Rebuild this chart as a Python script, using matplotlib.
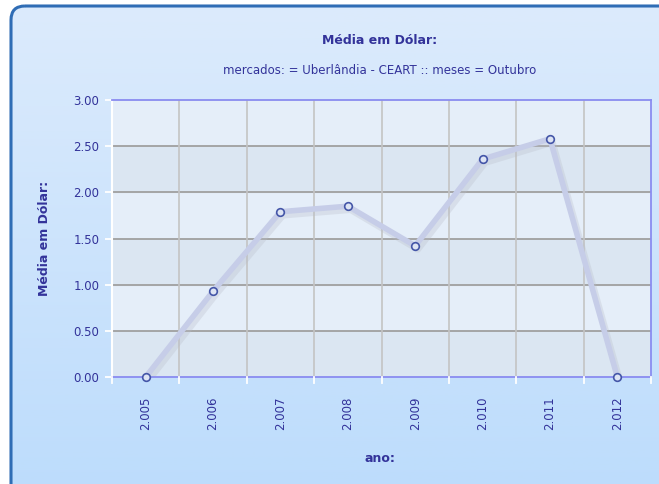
import numpy as np
import matplotlib
matplotlib.use("Agg")
import matplotlib.pyplot as plt
from matplotlib.patches import FancyBboxPatch

# data
anos = ['2.005', '2.006', '2.007', '2.008', '2.009', '2.010', '2.011', '2.012']
media = [0.00, 0.93, 1.79, 1.85, 1.42, 2.36, 2.58, 0.00]

txt = '#33339a'
plt.rcParams['font.family'] = ['DejaVu Sans']

W, H = 659, 484
fig = plt.figure(figsize=(W / 100, H / 100), dpi=100)
fig.patch.set_facecolor('white')

# outer rounded panel with vertical gradient
bg = fig.add_axes([0, 0, 1, 1], zorder=0)
bg.set_xlim(0, W)
bg.set_ylim(H, 0)
bg.axis('off')
grad = np.linspace(0, 1, 256).reshape(-1, 1)
cmap = matplotlib.colors.LinearSegmentedColormap.from_list('g', ['#dcebfc', '#bcdcfc'])
im = bg.imshow(grad, cmap=cmap, extent=[11, W + 20, H + 20, 6], aspect='auto')
box = FancyBboxPatch((11, 6), W + 10, H + 10, boxstyle='round,pad=0,rounding_size=14',
                     facecolor='none', edgecolor='#2f6db5', linewidth=2.2)
bg.add_patch(box)
im.set_clip_path(box)

# plot area
x0, x1, y0, y1 = 112, 651, 100, 377
ax = fig.add_axes([x0 / W, 1 - y1 / H, (x1 - x0) / W, (y1 - y0) / H], zorder=1)
ax.set_facecolor('#e5eef9')
x = np.arange(len(anos))
ax.set_xlim(-0.5, len(anos) - 0.5)
ax.set_ylim(0, 3)

# alternating bands
for k in range(6):
    if k % 2 == 0:
        ax.axhspan(k * 0.5, (k + 1) * 0.5, color='#dbe6f2', zorder=0)

for v in np.arange(0.5, 3.0, 0.5):
    ax.axhline(v, color='#a0a0a0', lw=1.3, zorder=1)
for b in np.arange(0.5, len(anos) - 0.5, 1):
    ax.axvline(b, color='#c4c4c4', lw=1.2, zorder=1)

# shadow + line + markers
ax.plot(x + 0.04, np.array(media) - 0.04, color='#b8bcc8', lw=4.5, alpha=0.3,
        solid_capstyle='round', zorder=2)
ax.plot(x, media, color='#c6cde8', lw=4, solid_capstyle='round', zorder=3)
ax.plot(x, media, 'o', ms=5.5, mfc='#dde4f4', mec='#4456a8', mew=1.2, zorder=4,
        clip_on=False)

ax.set_yticks(np.arange(0, 3.01, 0.5))
ax.set_yticklabels(['%.2f' % v for v in np.arange(0, 3.01, 0.5)])
ax.set_xticks(x)
ax.set_xticklabels(anos, rotation=90)
ax.tick_params(axis='x', length=0, pad=14, colors=txt, labelsize=8.5)
ax.tick_params(axis='y', length=5, width=1.3, colors=txt, labelsize=8.5, pad=4)
ax.tick_params(axis='y', color='white')
for b in np.arange(-0.5, len(anos), 1):
    ax.plot([b, b], [0, -0.07], color='white', lw=1.3, clip_on=False, zorder=5)

for s in ['top', 'right', 'bottom']:
    ax.spines[s].set_color('#8a8cf0')
    ax.spines[s].set_linewidth(1.3)
ax.spines['left'].set_color('white')
ax.spines['left'].set_linewidth(1.5)

fig.text(380 / W, 1 - 40 / H, 'Média em Dólar:', color=txt, fontsize=9,
         fontweight='bold', ha='center', va='center')
fig.text(380 / W, 1 - 71 / H, 'mercados: = Uberlândia - CEART :: meses = Outubro',
         color=txt, fontsize=8.5, ha='center', va='center')
fig.text(45 / W, 1 - 238 / H, 'Média em Dólar:', color=txt, fontsize=9,
         fontweight='bold', ha='center', va='center', rotation=90)
fig.text(380 / W, 1 - 458 / H, 'ano:', color=txt, fontsize=9,
         fontweight='bold', ha='center', va='center')

fig.savefig('out.png', dpi=100)
